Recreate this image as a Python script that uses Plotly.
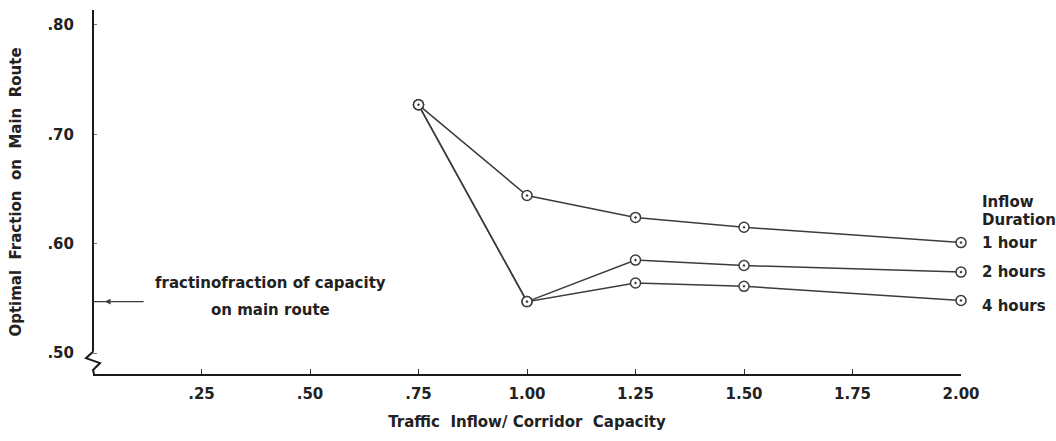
import plotly.graph_objects as go

# Traffic inflow / corridor capacity ratios
inflow_ratio = [0.75, 1.00, 1.25, 1.50, 2.00]

# Optimal fraction of traffic on the main route, by inflow duration
frac_1_hour = [0.727, 0.644, 0.624, 0.615, 0.601]
frac_2_hours = [0.727, 0.547, 0.585, 0.580, 0.574]
frac_4_hours = [0.727, 0.547, 0.564, 0.561, 0.548]

series_names = ["1 hour", "2 hours", "4 hours"]
series_values = [frac_1_hour, frac_2_hours, frac_4_hours]

x_tick_vals = [0.25, 0.50, 0.75, 1.00, 1.25, 1.50, 1.75, 2.00]
x_tick_text = [".25", ".50", ".75", "1.00", "1.25", "1.50", "1.75", "2.00"]
y_tick_vals = [0.50, 0.60, 0.70, 0.80]
y_tick_text = [".50", ".60", ".70", ".80"]

# fraction of capacity on main route (reference arrow)
capacity_fraction = 0.547

INK = "#222222"
LINE = "#3c3c3c"
FONT = dict(family="DejaVu Sans", size=15, color=INK, weight="bold")

fig = go.Figure()

for name, vals in zip(series_names, series_values):
    fig.add_trace(go.Scatter(
        x=inflow_ratio, y=vals, name=name, mode="lines+markers",
        line=dict(color=LINE, width=1.5),
        marker=dict(symbol="circle-dot", size=10, color="white",
                    line=dict(color=LINE, width=1.5)),
        cliponaxis=False, showlegend=False,
    ))

Y_LO, Y_HI = 0.4808, 0.8137
PX = 1.0 / 868  # paper units per pixel along x

# vertical axis with a break (zigzag) just below .50
fig.add_shape(type="line", xref="paper", yref="y", x0=0, x1=0, y0=0.5012, y1=Y_HI,
              line=dict(color="#1a1a1a", width=2))
zig = [(0, 0.5012), (-7 * PX, 0.4953), (7 * PX, 0.4908), (0, 0.4844), (1 * PX, Y_LO)]
path = "M " + " L ".join(f"{x},{y}" for x, y in zig)
fig.add_shape(type="path", xref="paper", yref="y", path=path,
              line=dict(color="#1a1a1a", width=2))

# arrow pointing to the vertical axis
fig.add_shape(type="line", xref="x", yref="y", x0=0, x1=0.03,
              y0=capacity_fraction, y1=capacity_fraction,
              line=dict(color=LINE, width=1.3))
fig.add_annotation(x=0.027, y=capacity_fraction, ax=0.12, ay=capacity_fraction,
                   xref="x", yref="y", axref="x", ayref="y", text="",
                   showarrow=True, arrowhead=2, arrowsize=0.9, arrowwidth=1.3,
                   arrowcolor=LINE)
fig.add_annotation(x=0.408, y=0.564, xref="x", yref="y",
                   text="fractinofraction of capacity", showarrow=False, font=FONT)
fig.add_annotation(x=0.408, y=0.5393, xref="x", yref="y",
                   text="on main route", showarrow=False, font=FONT)

# series labels on the right
fig.add_annotation(x=2.0, y=0.638, xref="x", yref="y", xshift=19, xanchor="left",
                   text="Inflow", showarrow=False, font=FONT)
fig.add_annotation(x=2.0, y=0.6216, xref="x", yref="y", xshift=19, xanchor="left",
                   text="Duration", showarrow=False, font=FONT)
label_shift = [0, 0, -5]
for name, vals, ys in zip(series_names, series_values, label_shift):
    fig.add_annotation(x=2.0, y=vals[-1], xref="x", yref="y", xshift=19, yshift=ys,
                       xanchor="left", text=name, showarrow=False, font=FONT)

fig.update_layout(
    width=1056, height=441,
    margin=dict(l=93, r=95, t=10, b=67),
    paper_bgcolor="white", plot_bgcolor="white",
    font=FONT,
    xaxis=dict(
        range=[0, 2.0], showgrid=False, zeroline=False,
        showline=True, linecolor="#1a1a1a", linewidth=2,
        tickvals=x_tick_vals, ticktext=x_tick_text,
        ticks="inside", ticklen=5, tickcolor="#333", tickwidth=1.2,
        ticklabelstandoff=5, tickfont=FONT,
        title=dict(text="Traffic  Inflow/ Corridor  Capacity", font=FONT, standoff=14),
    ),
    yaxis=dict(
        range=[Y_LO, Y_HI], showgrid=False, zeroline=False, showline=False,
        tickvals=y_tick_vals, ticktext=y_tick_text,
        ticks="inside", ticklen=4, tickcolor="#777", tickwidth=1,
        ticklabelstandoff=18, tickfont=FONT,
        title=dict(text="Optimal  Fraction  on  Main  Route", font=FONT, standoff=22),
    ),
)

fig.write_html("out.html")
